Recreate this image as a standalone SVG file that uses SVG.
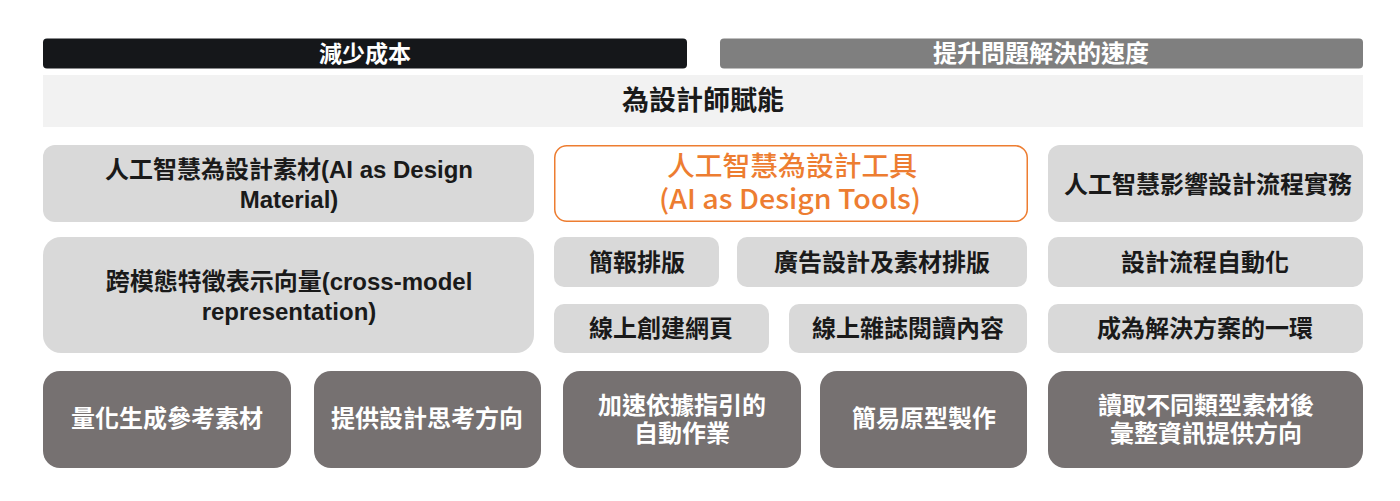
<svg xmlns="http://www.w3.org/2000/svg" width="1400" height="501" viewBox="0 0 1400 501">
<style>
  text { font-family: "Liberation Sans", "Noto Sans CJK TC", sans-serif; font-weight: bold; text-anchor: middle; }
  .t24 { font-size: 24px; }
  .dk { fill: #1a1a1a; }
  .wt { fill: #ffffff; }
  .light { fill: #d9d9d9; }
  .dark { fill: #767171; }
  .orange { font-family: "Noto Sans CJK TC", "Noto Sans", sans-serif; font-weight: 500; font-size: 27px; fill: #ed7d31; }
</style>
<rect width="1400" height="501" fill="#ffffff"/>

<g id="reduce-cost">
  <rect x="43" y="38.5" width="644" height="30" rx="4" fill="#15171a"/>
  <text x="365" y="62" class="wt" style="font-size:23px">減少成本</text>
</g>
<g id="speed-up">
  <rect x="720" y="38.5" width="643" height="30" rx="4" fill="#7f7f7f"/>
  <text x="1041" y="62" class="wt" style="font-size:24px">提升問題解決的速度</text>
</g>
<g id="empower">
  <rect x="43" y="75" width="1320" height="52" fill="#f2f2f2"/>
  <text x="703" y="110" class="dk" style="font-size:27px">為設計師賦能</text>
</g>

<g id="ai-material">
  <rect x="43" y="145" width="491" height="77" rx="12" class="light"/>
  <text x="289" y="178" class="dk t24">人工智慧為設計素材(AI as Design</text>
  <text x="289" y="208" class="dk t24">Material)</text>
</g>
<g id="ai-tools">
  <rect x="554.75" y="145.75" width="472.5" height="75.5" rx="12" fill="#ffffff" stroke="#ed7d31" stroke-width="1.5"/>
  <text class="orange"><tspan x="792" y="176" textLength="250" lengthAdjust="spacingAndGlyphs">人工智慧為設計工具</tspan><tspan x="790" y="208.5" textLength="262" lengthAdjust="spacingAndGlyphs">(AI as Design Tools)</tspan></text>
</g>
<g id="ai-process">
  <rect x="1048" y="145" width="315" height="77" rx="12" class="light"/>
  <text x="1208" y="193" class="dk t24">人工智慧影響設計流程實務</text>
</g>

<g id="cross-model">
  <rect x="43" y="237" width="491" height="116" rx="18" class="light"/>
  <text x="289" y="290" class="dk t24">跨模態特徵表示向量(cross-model</text>
  <text x="289" y="320" class="dk t24">representation)</text>
</g>
<g id="slides-layout">
  <rect x="554" y="237" width="165" height="50" rx="10" class="light"/>
  <text x="637" y="271" class="dk t24">簡報排版</text>
</g>
<g id="ad-design">
  <rect x="737" y="237" width="290" height="50" rx="10" class="light"/>
  <text x="882" y="271" class="dk t24">廣告設計及素材排版</text>
</g>
<g id="web-create">
  <rect x="554" y="304" width="215" height="49" rx="10" class="light"/>
  <text x="661" y="337" class="dk t24">線上創建網頁</text>
</g>
<g id="magazine">
  <rect x="789" y="304" width="238" height="49" rx="10" class="light"/>
  <text x="908" y="337" class="dk t24">線上雜誌閱讀內容</text>
</g>
<g id="process-automation">
  <rect x="1048" y="237" width="315" height="50" rx="10" class="light"/>
  <text x="1205" y="271" class="dk t24">設計流程自動化</text>
</g>
<g id="part-of-solution">
  <rect x="1048" y="304" width="315" height="49" rx="10" class="light"/>
  <text x="1205" y="337" class="dk t24">成為解決方案的一環</text>
</g>

<g id="quantify-ref">
  <rect x="43" y="371" width="248" height="97" rx="17" class="dark"/>
  <text x="167" y="427" class="wt t24">量化生成參考素材</text>
</g>
<g id="design-thinking">
  <rect x="314" y="371" width="227" height="97" rx="17" class="dark"/>
  <text x="427" y="427" class="wt t24">提供設計思考方向</text>
</g>
<g id="guided-automation">
  <rect x="563" y="371" width="238" height="97" rx="17" class="dark"/>
  <text x="682" y="414" class="wt t24">加速依據指引的</text>
  <text x="682" y="442" class="wt t24">自動作業</text>
</g>
<g id="prototype">
  <rect x="820" y="371" width="207" height="97" rx="17" class="dark"/>
  <text x="924" y="427" class="wt t24">簡易原型製作</text>
</g>
<g id="read-materials">
  <rect x="1048" y="371" width="315" height="97" rx="17" class="dark"/>
  <text x="1206" y="414" class="wt t24">讀取不同類型素材後</text>
  <text x="1206" y="442" class="wt t24">彙整資訊提供方向</text>
</g>
</svg>
